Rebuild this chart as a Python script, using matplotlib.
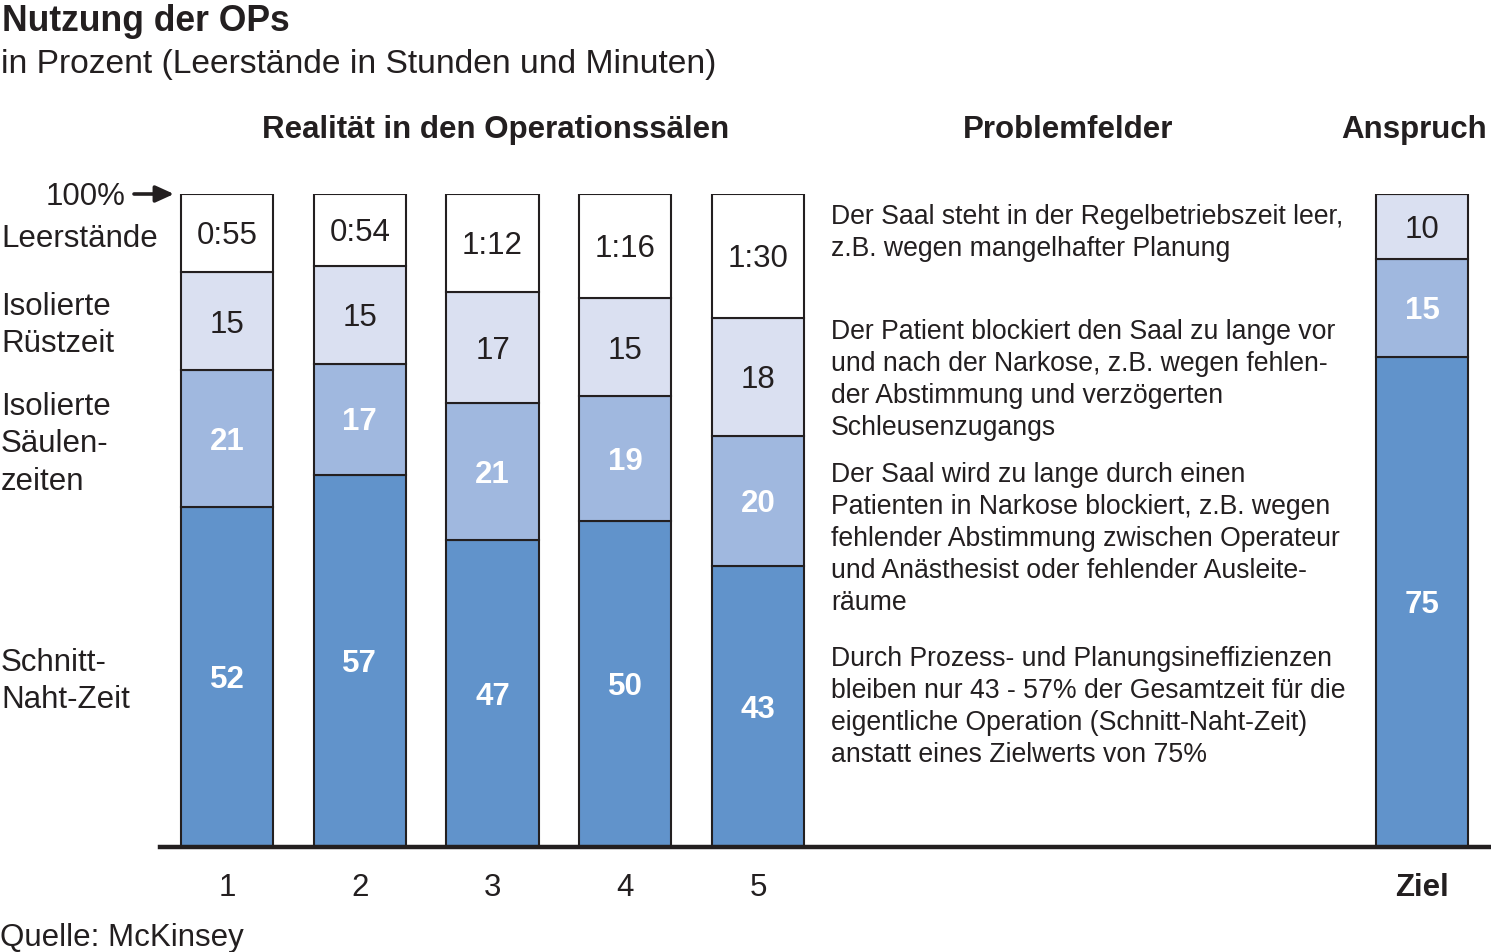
import matplotlib
matplotlib.use('Agg')
import matplotlib.pyplot as plt
from matplotlib import transforms

plt.rcParams['font.family'] = ['Liberation Sans', 'DejaVu Sans']

# ---------------- data ----------------
categories = ['1', '2', '3', '4', '5', 'Ziel']
schnitt_naht = [52, 57, 47, 50, 43, 75]
saeulen = [21, 17, 21, 19, 20, 15]
ruest = [15, 15, 17, 15, 18, 10]
leer = [12, 11, 15, 16, 19, 0]
leer_labels = ['0:55', '0:54', '1:12', '1:16', '1:30', '']

headers = ['Realität in den Operationssälen', 'Problemfelder', 'Anspruch']
row_labels = [['Leerstände'], ['Isolierte', 'Rüstzeit'],
              ['Isolierte', 'Säulen-', 'zeiten'], ['Schnitt-', 'Naht-Zeit']]
problem_texts = [
    ['Der Saal steht in der Regelbetriebszeit leer,',
     'z.B. wegen mangelhafter Planung'],
    ['Der Patient blockiert den Saal zu lange vor',
     'und nach der Narkose, z.B. wegen fehlen-',
     'der Abstimmung und verzögerten',
     'Schleusenzugangs'],
    ['Der Saal wird zu lange durch einen',
     'Patienten in Narkose blockiert, z.B. wegen',
     'fehlender Abstimmung zwischen Operateur',
     'und Anästhesist oder fehlender Ausleite-',
     'räume'],
    ['Durch Prozess- und Planungsineffizienzen',
     'bleiben nur 43 - 57% der Gesamtzeit für die',
     'eigentliche Operation (Schnitt-Naht-Zeit)',
     'anstatt eines Zielwerts von 75%'],
]

# ---------------- style ----------------
TXT = '#231f20'
C_DARK = '#6193cb'
C_MED = '#a0b8df'
C_LIGHT = '#dae0f1'
C_WHITE = '#ffffff'
FS = 22.5

W, H = 1491, 952
fig = plt.figure(figsize=(W / 100, H / 100), dpi=100)


def fx(px):
    return px / W


def fy(py):
    return 1 - py / H


def lines_at(x, y0, lines, step, **kw):
    for i, ln in enumerate(lines):
        fig.text(fx(x), fy(y0 + i * step), ln, va='baseline', color=TXT, **kw)


ax = fig.add_axes([fx(160), fy(847), fx(1491) - fx(160), fy(194) - fy(847)])
ax.set_xlim(-0.505, 9.52)
ax.set_ylim(0, 100)
ax.axis('off')

positions = [0, 1, 2, 3, 4, 9]
width = 0.695

segments = [
    (schnitt_naht, C_DARK, [str(v) for v in schnitt_naht], 'white', 'bold'),
    (saeulen, C_MED, [str(v) for v in saeulen], 'white', 'bold'),
    (ruest, C_LIGHT, [str(v) for v in ruest], TXT, 'normal'),
    (leer, C_WHITE, leer_labels, TXT, 'normal'),
]

label_tr = transforms.offset_copy(ax.transData, fig=fig, y=-0.716 * FS / 2, units='points')
bottoms = [0] * len(categories)
for vals, col, labs, tcol, tw in segments:
    ax.bar(positions, vals, width=width, bottom=bottoms, color=col,
           edgecolor=TXT, linewidth=1.5, zorder=2)
    for p, b, v, lab in zip(positions, bottoms, vals, labs):
        if v > 0 and lab:
            ax.text(p, b + v / 2, lab, ha='center', va='baseline', fontsize=FS,
                    color=tcol, fontweight=tw, transform=label_tr, zorder=3)
    bottoms = [b + v for b, v in zip(bottoms, vals)]

ax.axhline(0, color=TXT, lw=3.2, zorder=4, clip_on=False)

# x tick labels
tick_tr = transforms.blended_transform_factory(ax.transData, fig.transFigure)
for p, c in zip(positions, categories):
    ax.text(p, fy(896), c, ha='center', va='baseline', fontsize=FS, color=TXT,
            fontweight='bold' if c == 'Ziel' else 'normal', transform=tick_tr)

# titles
fig.text(fx(2), fy(31), 'Nutzung der OPs', fontsize=25.6, fontweight='bold',
         color=TXT, va='baseline')
fig.text(fx(1), fy(73), 'in Prozent (Leerstände in Stunden und Minuten)',
         fontsize=24.2, color=TXT, va='baseline')

# column headers
for hx, htxt in zip([496, 1068, 1414], headers):
    fig.text(fx(hx), fy(138), htxt, fontsize=FS, fontweight='bold', color=TXT,
             ha='center', va='baseline')

# left row labels
fig.text(fx(125), fy(205), '100%', fontsize=FS, color=TXT, ha='right', va='baseline')
fig.patches.append(matplotlib.patches.FancyArrowPatch(
    (fx(134), fy(194)), (fx(174), fy(194)), transform=fig.transFigure,
    arrowstyle='-|>,head_length=0.55,head_width=0.25', mutation_scale=20,
    lw=2.6, color=TXT, shrinkA=0, shrinkB=0))
for y0, lines in zip([247, 315, 415, 671], row_labels):
    lines_at(1, y0, lines, 37.5, fontsize=FS)

# problem field texts
for y0, lines in zip([224, 339, 482, 666], problem_texts):
    lines_at(831, y0, lines, 32, fontsize=19.2)

# source
fig.text(fx(0), fy(946), 'Quelle: McKinsey', fontsize=FS, color=TXT, va='baseline')

fig.savefig('out.png', dpi=100, facecolor='white')
